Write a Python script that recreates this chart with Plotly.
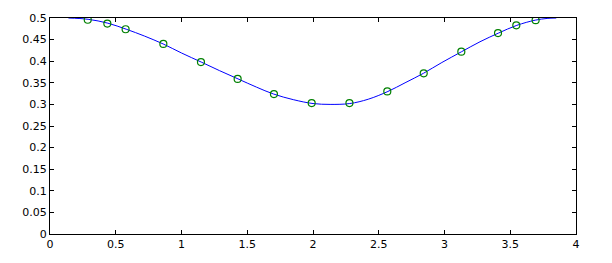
import plotly.graph_objects as go

# Curve
curve_x = [0.14, 0.29, 0.44, 0.58, 0.72, 0.86, 1.00, 1.15, 1.29, 1.43, 1.57, 1.70, 1.85, 2.00, 2.13, 2.28, 2.42, 2.57, 2.70, 2.84, 2.98, 3.13, 3.27, 3.41, 3.55, 3.69, 3.78, 3.85]
curve_y = [0.500, 0.497, 0.488, 0.474, 0.458, 0.440, 0.419, 0.398, 0.378, 0.359, 0.340, 0.324, 0.311, 0.302, 0.300, 0.302, 0.312, 0.330, 0.350, 0.372, 0.397, 0.422, 0.445, 0.465, 0.483, 0.495, 0.499, 0.500]

# Sample points (green circles)
pts_x = [0.287, 0.436, 0.575, 0.862, 1.148, 1.427, 1.703, 1.99, 2.277, 2.565, 2.842, 3.128, 3.407, 3.546, 3.693]
pts_y = [0.496, 0.487, 0.474, 0.440, 0.398, 0.359, 0.324, 0.303, 0.303, 0.330, 0.372, 0.422, 0.465, 0.483, 0.495]

x_ticks = [0, 0.5, 1, 1.5, 2, 2.5, 3, 3.5, 4]
x_labels = ["0", "0.5", "1", "1.5", "2", "2.5", "3", "3.5", "4"]
y_ticks = [0, 0.05, 0.1, 0.15, 0.2, 0.25, 0.3, 0.35, 0.4, 0.45, 0.5]
y_labels = ["0", "0.05", "0.1", "0.15", "0.2", "0.25", "0.3", "0.35", "0.4", "0.45", "0.5"]

fig = go.Figure()
fig.add_trace(go.Scatter(x=curve_x, y=curve_y, mode="lines",
                         line=dict(color="rgb(0,0,255)", width=1, shape="spline", smoothing=1.0),
                         hoverinfo="skip"))
fig.add_trace(go.Scatter(x=pts_x, y=pts_y, mode="markers",
                         marker=dict(symbol="circle-open", size=7, color="rgb(0,128,0)",
                                     line=dict(width=1.2, color="rgb(0,128,0)"))))

axis_common = dict(showgrid=False, zeroline=False, showline=True, linecolor="black",
                   linewidth=1, mirror="ticks", ticks="inside", ticklen=4,
                   tickcolor="black", tickwidth=1,
                   tickfont=dict(family="DejaVu Sans", size=11, color="black"))

fig.update_layout(
    width=612, height=263,
    margin=dict(l=50, r=36, t=14, b=26),
    paper_bgcolor="white", plot_bgcolor="white",
    showlegend=False,
    xaxis=dict(range=[0, 4], tickvals=x_ticks, ticktext=x_labels, **axis_common),
    yaxis=dict(range=[0, 0.5], tickvals=y_ticks, ticktext=y_labels, **axis_common),
)

fig.write_html("out.html")
